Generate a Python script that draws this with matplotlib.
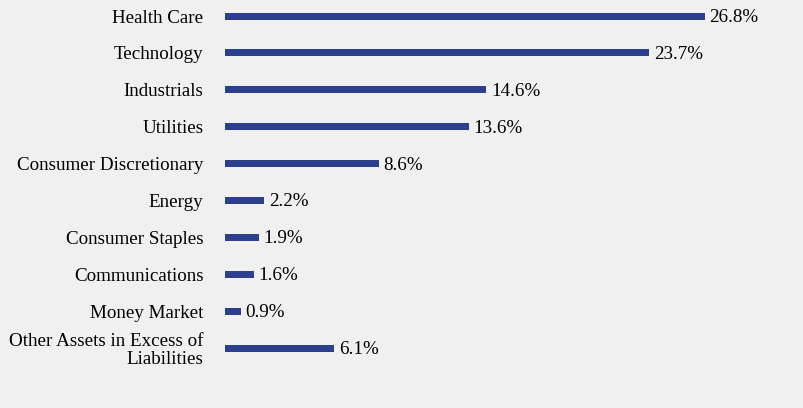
import matplotlib.pyplot as plt

# sector weights
sectors = ["Health Care", "Technology", "Industrials", "Utilities",
           "Consumer Discretionary", "Energy", "Consumer Staples",
           "Communications", "Money Market",
           "Other Assets in Excess of\nLiabilities"]
weights = [26.8, 23.7, 14.6, 13.6, 8.6, 2.2, 1.9, 1.6, 0.9, 6.1]

bg = "#f0f0f0"
bar_color = "#2b3f8c"

plt.rcParams["font.family"] = "Liberation Serif"

fig = plt.figure(figsize=(8.04, 4.08), dpi=100, facecolor=bg)
ax = fig.add_axes([225 / 804, 0, 555 / 804, 1])
ax.set_facecolor(bg)

pos = list(range(len(sectors)))
ax.barh(pos, weights, height=0.19, color=bar_color)

for p, w in zip(pos, weights):
    ax.text(w + 0.25, p + 0.04, f"{w}%", va="center", ha="left", fontsize=13.7)

ax.set_yticks(pos)
ax.set_yticklabels(sectors, fontsize=13.7, linespacing=1.05)
ax.tick_params(axis="y", length=0, pad=15.5)
ax.set_xticks([])
ax.set_xlim(0, 26.8 * 555 / 480)
ax.set_ylim(10.626, -0.434)
for s in ax.spines.values():
    s.set_visible(False)

plt.savefig("out.png", dpi=100, facecolor=bg)
